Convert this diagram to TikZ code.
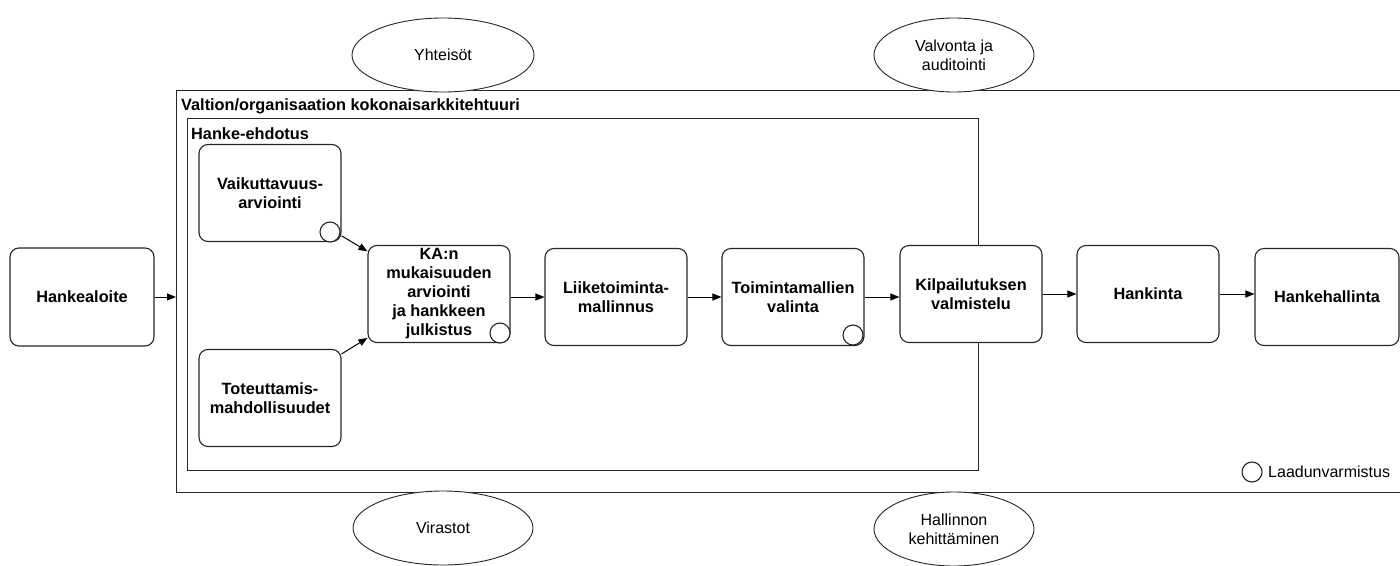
\documentclass[tikz,border=0pt]{standalone}
\usepackage{fontspec}
\setmainfont{Liberation Sans}
\usetikzlibrary{arrows.meta,shapes.geometric}
\begin{document}
\begin{tikzpicture}[x=1pt,y=-1pt,
  every node/.style={font=\fontsize{16}{19}\selectfont},
  frame/.style={draw=black!85, line width=1.1pt, rectangle, inner sep=0pt},
  stepbox/.style={draw=black!85, line width=1.1pt, fill=white, rectangle, rounded corners=9pt,
    minimum width=142pt, minimum height=97pt, align=center, inner sep=2pt,
    font=\fontsize{16.3}{19}\selectfont\bfseries},
  cloud/.style={draw=black!85, line width=0.9pt, fill=white, ellipse, inner sep=0pt,
    align=center, font=\fontsize{16}{19}\selectfont},
  qa/.style={draw=black!85, line width=1.1pt, fill=white, circle, minimum size=20pt, inner sep=0pt},
  flow/.style={draw=black, line width=1pt, -{Triangle[length=9pt,width=7pt]}},
  title/.style={anchor=base west, inner sep=0pt, font=\fontsize{16.3}{19}\selectfont\bfseries}
]
\useasboundingbox (0,0) rectangle (1400,565);
% frames
\node[frame, anchor=north west, minimum width=1240pt, minimum height=402pt] (outer) at (176,90) {};
\node[title] (outert) at (181,110) {Valtion/organisaation kokonaisarkkitehtuuri};
\node[frame, anchor=north west, minimum width=791pt, minimum height=352pt] (inner) at (187,118) {};
\node[title] (innert) at (191,139) {Hanke-ehdotus};
% ellipses
\node[cloud, minimum width=182pt, minimum height=74pt] (yht) at (443,55) {Yhteisöt};
\node[cloud, minimum width=160pt, minimum height=74pt] (val) at (954,55) {Valvonta ja\\auditointi};
\node[cloud, minimum width=180pt, minimum height=74pt] (vir) at (443,528) {Virastot};
\node[cloud, minimum width=160pt, minimum height=74pt] (hal) at (954,529) {Hallinnon\\kehittäminen};
% boxes
\node[stepbox, minimum width=144pt, minimum height=98pt] (alo) at (82,297) {Hankealoite};
\node[stepbox] (vaik) at (270,193) {\\[-6pt]Vaikuttavuus-\\arviointi};
\node[stepbox] (tot) at (270,398) {Toteuttamis-\\mahdollisuudet};
\node[stepbox] (ka) at (439,294) {KA:n\\mukaisuuden\\arviointi\\ja hankkeen\\julkistus};
\node[stepbox] (lii) at (616,297) {Liiketoiminta-\\mallinnus};
\node[stepbox] (toi) at (793,297) {Toimintamallien\\valinta};
\node[stepbox] (kil) at (971,294) {Kilpailutuksen\\valmistelu};
\node[stepbox] (han) at (1148,294) {Hankinta};
\node[stepbox, minimum width=144pt] (hh) at (1327,297) {Hankehallinta};
% quality circles
\node[qa] (q1) at (330,232) {};
\node[qa] (q2) at (500,333) {};
\node[qa] (q3) at (853,335) {};
% connectors
\draw[flow] (alo.east) -- (alo.east -| outer.west);
\draw[flow] (vaik) -- (ka);
\draw[flow] (tot) -- (ka);
\draw[flow] (ka.east |- lii.west) -- (lii.west);
\draw[flow] (lii.east) -- (toi.west);
\draw[flow] (toi.east) -- (toi.east -| kil.west);
\draw[flow] (kil.east) -- (kil.east -| han.west);
\draw[flow] (han.east) -- (han.east -| hh.west);
% legend
\node[qa] (leg) at (1252,472) {};
\node[anchor=west, inner sep=0pt] (legt) at (1268,472) {Laadunvarmistus};
\end{tikzpicture}
\end{document}
